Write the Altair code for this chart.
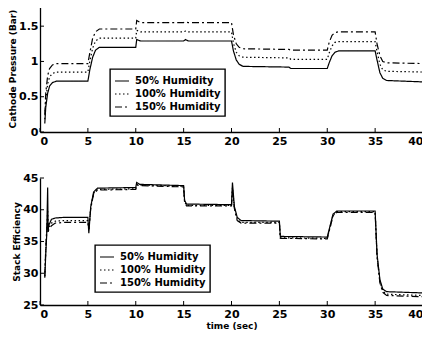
import altair as alt
import pandas as pd

SERIES = ["50% Humidity", "100% Humidity", "150% Humidity"]

# Cathode pressure (Bar)
t_p = [0.5, 0.6, 0.8, 1.0, 1.3, 1.7, 5.0, 5.2, 5.5, 5.8, 6.2, 10.0, 10.1, 10.5,
       15.0, 15.2, 15.5, 20.0, 20.2, 20.5, 20.8, 21.2, 26.0, 26.2, 30.0, 30.2,
       30.5, 30.8, 31.2, 35.0, 35.2, 35.5, 35.8, 36.2, 40.0]
p50 = [0.12, 0.35, 0.55, 0.65, 0.70, 0.72, 0.72, 0.88, 1.06, 1.16, 1.20, 1.20, 1.31, 1.29,
       1.29, 1.31, 1.29, 1.29, 1.15, 1.02, 0.96, 0.93, 0.92, 0.90, 0.90, 0.98,
       1.08, 1.13, 1.15, 1.15, 1.02, 0.84, 0.76, 0.73, 0.71]
p100 = [0.18, 0.45, 0.68, 0.78, 0.83, 0.85, 0.85, 1.00, 1.19, 1.29, 1.33, 1.33, 1.44, 1.42,
        1.42, 1.43, 1.42, 1.42, 1.26, 1.13, 1.08, 1.06, 1.05, 1.03, 1.03, 1.12,
        1.22, 1.27, 1.28, 1.28, 1.14, 0.96, 0.88, 0.86, 0.85]
p150 = [0.25, 0.55, 0.80, 0.90, 0.95, 0.97, 0.97, 1.12, 1.33, 1.42, 1.46, 1.46, 1.58, 1.55,
        1.55, 1.56, 1.55, 1.55, 1.38, 1.25, 1.20, 1.18, 1.17, 1.16, 1.16, 1.27,
        1.37, 1.41, 1.42, 1.42, 1.25, 1.08, 1.00, 0.98, 0.97]

# Stack efficiency
t_e = [0.5, 0.6, 0.7, 0.8, 0.85, 0.9, 1.2, 1.6, 2.5, 5.0, 5.1, 5.3, 5.6, 6.0,
       10.0, 10.1, 10.4, 15.0, 15.1, 15.3, 20.0, 20.1, 20.3, 20.6, 21.0, 25.0, 25.1,
       30.0, 30.3, 30.6, 31.0, 35.0, 35.2, 35.5, 35.8, 36.2, 40.0]
e50 = [29.3, 33.0, 36.0, 43.5, 36.5, 37.5, 38.5, 38.7, 38.8, 38.8, 36.3, 40.5, 42.8, 43.4,
       43.5, 44.3, 44.0, 43.8, 41.5, 40.9, 40.8, 44.3, 40.5, 38.8, 38.3, 38.2, 35.8,
       35.7, 37.5, 39.3, 39.8, 39.8, 33.0, 29.0, 27.5, 27.1, 26.9]
e100 = [29.5, 33.5, 36.5, 40.0, 37.0, 37.2, 37.9, 38.2, 38.3, 38.3, 36.8, 40.3, 42.6, 43.2,
        43.3, 44.0, 43.9, 43.7, 41.3, 40.7, 40.7, 43.5, 40.3, 38.5, 38.0, 38.0, 35.6,
        35.5, 37.3, 39.1, 39.7, 39.7, 32.8, 28.7, 27.2, 26.7, 26.5]
e150 = [29.6, 33.8, 36.8, 38.5, 36.5, 36.8, 37.5, 37.9, 38.0, 38.0, 36.9, 40.2, 42.5, 43.1,
        43.2, 43.9, 43.8, 43.6, 41.2, 40.6, 40.6, 43.0, 40.2, 38.3, 37.9, 37.9, 35.5,
        35.4, 37.2, 39.0, 39.6, 39.6, 32.6, 28.5, 27.0, 26.5, 26.3]

x_ticks = [0, 5, 10, 15, 20, 25, 30, 35, 40]
p_ticks = [0, 0.5, 1, 1.5]
e_ticks = [25, 30, 35, 40, 45]

W = 383
H1 = 127
H2 = 127
FONT = "DejaVu Sans"


def long_df(t, cols):
    rows = []
    for name, vals in zip(SERIES, cols):
        for i, (tt, v) in enumerate(zip(t, vals)):
            rows.append({"t": tt, "v": v, "series": name, "i": i})
    return pd.DataFrame(rows)


df_p = long_df(t_p, [p50, p100, p150])
df_e = long_df(t_e, [e50, e100, e150])

dash_scale = alt.Scale(domain=SERIES, range=[[1, 0], [1.5, 2.5], [7, 3, 2, 3]])


def panel(df, ydomain, yticks, ytitle, xtitle, H, lx, ly):
    xs = alt.Scale(domain=[0, 40], nice=False)
    ys = alt.Scale(domain=ydomain, nice=False, zero=False)
    xa = alt.Axis(values=x_ticks, title=xtitle, format="d", labelOverlap=False,
                  titlePadding=2)
    ya = alt.Axis(values=yticks, title=ytitle, format=".1~f", labelOverlap=False,
                  titlePadding=1, labelPadding=2)
    lines = alt.Chart(df).mark_line(color="black", strokeWidth=1.2).encode(
        x=alt.X("t:Q", scale=xs, axis=xa),
        y=alt.Y("v:Q", scale=ys, axis=ya),
        order="i:Q",
        strokeDash=alt.StrokeDash(
            "series:N", scale=dash_scale, sort=SERIES,
            legend=alt.Legend(
                title=None, orient="none", legendX=lx, legendY=ly,
                symbolType="stroke", symbolSize=196, symbolStrokeColor="black",
                symbolStrokeWidth=1.2, labelFont=FONT, labelFontWeight="bold",
                labelFontSize=10, labelColor="black", labelOffset=5,
                strokeColor="black", fillColor="white", padding=4,
                rowPadding=0, cornerRadius=0,
            ),
        ),
    )
    xt = alt.Chart(pd.DataFrame({"t": x_ticks})).mark_rule(color="black").encode(
        x=alt.X("t:Q", scale=xs, axis=xa), y=alt.value(H), y2=alt.value(H - 4))
    yt = alt.Chart(pd.DataFrame({"v": yticks})).mark_rule(color="black").encode(
        y=alt.Y("v:Q", scale=ys, axis=ya), x=alt.value(0), x2=alt.value(4))
    return alt.layer(lines, xt, yt).properties(width=W, height=H)


top = panel(df_p, [0, 1.8], p_ticks, "Cathode Pressure (Bar)", None, H1, 70, 64)
bot = panel(df_e, [25, 45], e_ticks, "Stack Efficiency", "time (sec)", H2, 55, 67)

chart = alt.vconcat(top, bot, spacing=46, bounds="flush").resolve_scale(
    strokeDash="independent").resolve_legend(strokeDash="independent").properties(
    padding={"left": 0, "top": -3, "right": -4, "bottom": 0}
).configure_view(stroke=None).configure_axis(
    domainColor="black", domainWidth=1.3, ticks=False, grid=False,
    labelFont=FONT, labelFontWeight="bold", labelFontSize=11, labelColor="black",
    labelPadding=3, titleFont=FONT, titleFontWeight="bold", titleFontSize=9,
    titleColor="black",
).configure_legend(strokeWidth=1.4)

chart.save("out.html", embed_options={"renderer": "svg", "actions": False})
